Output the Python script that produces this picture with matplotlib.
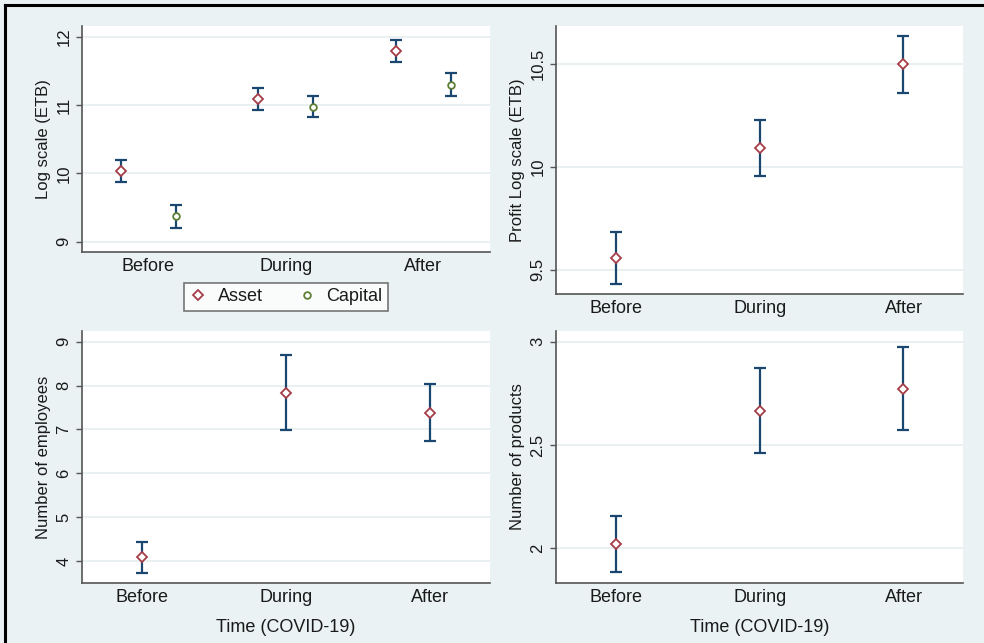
import matplotlib
matplotlib.use("Agg")
import matplotlib.pyplot as plt
from matplotlib.lines import Line2D
import numpy as np

plt.rcParams['font.family'] = ['Liberation Sans', 'DejaVu Sans']

categories = ["Before", "During", "After"]

# Panel 1: Asset and Capital (log scale)
asset_mean = [10.03, 11.09, 11.79]
asset_lo = [9.88, 10.93, 11.63]
asset_hi = [10.19, 11.25, 11.95]
capital_mean = [9.37, 10.97, 11.30]
capital_lo = [9.20, 10.82, 11.14]
capital_hi = [9.54, 11.13, 11.47]

# Panel 2: Profit
profit_mean = [9.557, 10.094, 10.499]
profit_lo = [9.43, 9.956, 10.36]
profit_hi = [9.686, 10.23, 10.636]

# Panel 3: Employees
emp_mean = [4.08, 7.83, 7.38]
emp_lo = [3.73, 6.98, 6.73]
emp_hi = [4.43, 8.70, 8.04]

# Panel 4: Products
prod_mean = [2.02, 2.665, 2.771]
prod_lo = [1.885, 2.46, 2.573]
prod_hi = [2.155, 2.871, 2.976]

BG = '#EAF2F3'
GRID = '#E8F0F2'
NAVY = '#1A476F'
MAROON = '#A63C47'
GREEN = '#5C7F33'
TXT = '#1a1a1a'

W, H = 984, 643
fig = plt.figure(figsize=(W / 100, H / 100), dpi=100, facecolor=BG)


def make_ax(l, t, r, b):
    return fig.add_axes([l / W, (H - b) / H, (r - l) / W, (b - t) / H])


def style(ax, yticks, ylabels, ylim, xlim, ylabel, xlabel=None):
    ax.set_facecolor('white')
    for s in ['top', 'right']:
        ax.spines[s].set_visible(False)
    for s in ['left', 'bottom']:
        ax.spines[s].set_color('#555555')
        ax.spines[s].set_linewidth(1.2)
    ax.set_xlim(*xlim)
    ax.set_ylim(*ylim)
    ax.set_yticks(yticks)
    ax.set_yticklabels(ylabels, rotation=90, va='center', fontsize=12, color=TXT)
    ax.set_xticks(range(1, len(categories) + 1))
    ax.set_xticklabels(categories, fontsize=13, color=TXT)
    ax.tick_params(axis='x', length=0, pad=4)
    ax.tick_params(axis='y', length=4.5, width=1, color='#555555', pad=3)
    ax.grid(axis='y', color=GRID, linewidth=1.4)
    ax.set_axisbelow(True)
    ax.set_ylabel(ylabel, fontsize=12, color=TXT, labelpad=4)
    if xlabel:
        ax.set_xlabel(xlabel, fontsize=13, color=TXT, labelpad=10)


def draw(ax, xs, mean, lo, hi, color, marker, ms):
    mean = np.array(mean)
    yerr = np.vstack([mean - np.array(lo), np.array(hi) - mean])
    ax.errorbar(xs, mean, yerr=yerr, fmt='none', ecolor=NAVY, elinewidth=1.6,
                capsize=4.5, capthick=1.6, zorder=3)
    ax.plot(xs, mean, linestyle='none', marker=marker, ms=ms, mfc='white',
            mec=color, mew=1.3, zorder=4)


x = np.arange(1, len(categories) + 1)

# Top-left
ax1 = make_ax(82, 26, 490, 252)
style(ax1, [9, 10, 11, 12], ['9', '10', '11', '12'], (8.85, 12.157), (0.517, 3.484),
      'Log scale (ETB)')
draw(ax1, x - 0.2, asset_mean, asset_lo, asset_hi, MAROON, 'D', 5.3)
draw(ax1, x + 0.2, capital_mean, capital_lo, capital_hi, GREEN, 'o', 4.8)
handles = [Line2D([], [], linestyle='none', marker='D', ms=5.3, mfc='white', mec=MAROON, mew=1.3),
           Line2D([], [], linestyle='none', marker='o', ms=4.8, mfc='white', mec=GREEN, mew=1.3)]
leg = ax1.legend(handles, ['Asset', 'Capital'], ncol=2, loc='upper center',
                 bbox_to_anchor=(0.5, -0.137), frameon=True, fancybox=False,
                 fontsize=13, edgecolor='#555555', columnspacing=1.9,
                 handletextpad=0.6, borderpad=0.3, handlelength=1.0,
                 borderaxespad=0)
leg.get_frame().set_linewidth(1.2)
for t in leg.get_texts():
    t.set_color(TXT)

# Top-right
ax2 = make_ax(556, 26, 963, 294)
style(ax2, [9.5, 10, 10.5], ['9.5', '10', '10.5'], (9.383, 10.686), (0.583, 3.414),
      'Profit Log scale (ETB)')
draw(ax2, x, profit_mean, profit_lo, profit_hi, MAROON, 'D', 5.3)

# Bottom-left
ax3 = make_ax(82, 331, 490, 583)
style(ax3, [4, 5, 6, 7, 8, 9], ['4', '5', '6', '7', '8', '9'], (3.498, 9.244), (0.585, 3.417),
      'Number of employees', 'Time (COVID-19)')
draw(ax3, x, emp_mean, emp_lo, emp_hi, MAROON, 'D', 5.3)

# Bottom-right
ax4 = make_ax(556, 331, 963, 583)
style(ax4, [2, 2.5, 3], ['2', '2.5', '3'], (1.833, 3.052), (0.583, 3.414),
      'Number of products', 'Time (COVID-19)')
draw(ax4, x, prod_mean, prod_lo, prod_hi, MAROON, 'D', 5.3)

# Outer border (top and left)
fig.add_artist(Line2D([4.5 / W, 1.0], [1 - 5 / H, 1 - 5 / H], color='black', lw=2.2,
                      transform=fig.transFigure))
fig.add_artist(Line2D([4.5 / W, 4.5 / W], [0.0, 1 - 5 / H], color='black', lw=2.2,
                      transform=fig.transFigure))

fig.savefig('out.png', dpi=100, facecolor=BG)
